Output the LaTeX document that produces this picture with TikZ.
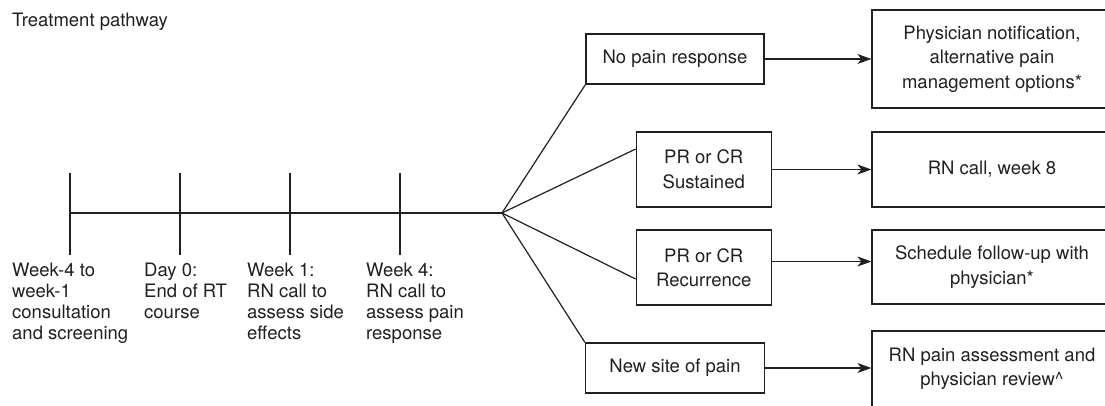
\documentclass[tikz,border=0pt]{standalone}
\usepackage{fontspec}
\setmainfont{TeX Gyre Heros}
\usetikzlibrary{arrows.meta}
\definecolor{ink}{HTML}{231F20}
\newcommand\boxfnt{\fontsize{18.5}{24.5}\selectfont}
\newcommand\lblfnt{\fontsize{18.5}{21.2}\selectfont}
\begin{document}
\begin{tikzpicture}[x=1pt,y=-1pt,
  box/.style={draw=ink, line width=1.2pt, inner sep=0pt, align=center, text=ink, font=\boxfnt},
  lbl/.style={anchor=north west, inner sep=0pt, align=left, text=ink, font=\lblfnt},
  conn/.style={draw=ink, line width=1.2pt},
  arr/.style={conn, -{Stealth[length=14pt,width=10pt,inset=4pt]}}]
\useasboundingbox (0,0) rectangle (1105,405);
\clip (0,0) rectangle (1105,405);
% title
\node[anchor=base west, inner sep=0pt, text=ink, font=\lblfnt] (title) at (12,26) {Treatment pathway};
% timeline
\coordinate (t0) at (70,213);
\coordinate (t1) at (180,213);
\coordinate (t2) at (290,213);
\coordinate (t3) at (400,213);
\coordinate (br) at (502,213);
\draw[conn] (t0) -- (br);
\foreach \t in {t0,t1,t2,t3}{
  \draw[conn] ([yshift=40pt]\t) -- ([yshift=-42pt]\t);
}
\node[lbl] (l0) at (12,262.5) {Week-4 to\\week-1\\consultation\\and screening};
\node[lbl] (l1) at (144,262.5) {Day 0:\\End of RT\\course};
\node[lbl] (l2) at (247,262.5) {Week 1:\\RN call to\\assess side\\effects};
\node[lbl] (l3) at (366,262.5) {Week 4:\\RN call to\\assess pain\\response};
% middle boxes
\node[box, minimum width=178pt, minimum height=50pt] (np) at (675,59) {No pain response};
\node[box, minimum width=135pt, minimum height=75pt] (sus) at (703.75,169.5) {PR or CR\\Sustained};
\node[box, minimum width=135pt, minimum height=75pt] (rec) at (703.75,267.5) {PR or CR\\Recurrence};
\node[box, minimum width=179pt, minimum height=50pt] (nsp) at (675,368) {New site of pain};
% right boxes
\node[box, minimum width=240pt, minimum height=98pt] (phys) at (992,59) {Physician notification,\\alternative pain\\management options*};
\node[box, minimum width=240pt, minimum height=75pt] (rnc) at (992,169.5) {RN call, week 8};
\node[box, minimum width=240pt, minimum height=74pt] (sch) at (992,267) {Schedule follow-up with\\physician*};
\node[box, minimum width=240pt, minimum height=76pt] (rnp) at (992,369) {RN pain assessment and\\physician review\textasciicircum};
% branches
\draw[conn] (br) -- (np.south west);
\draw[conn] (br) -- ([yshift=20.5pt]sus.west);
\draw[conn] (br) -- ([yshift=-11.5pt]rec.west);
\draw[conn] (br) -- (nsp.north west);
% arrows
\draw[arr] (np.east) -- (np.east -| phys.west);
\draw[arr] (sus.east) -- (sus.east -| rnc.west);
\draw[arr] ([yshift=6pt]rec.east) -- ([yshift=6pt]rec.east -| sch.west);
\draw[arr] (nsp.east) -- (nsp.east -| rnp.west);
\end{tikzpicture}
\end{document}
